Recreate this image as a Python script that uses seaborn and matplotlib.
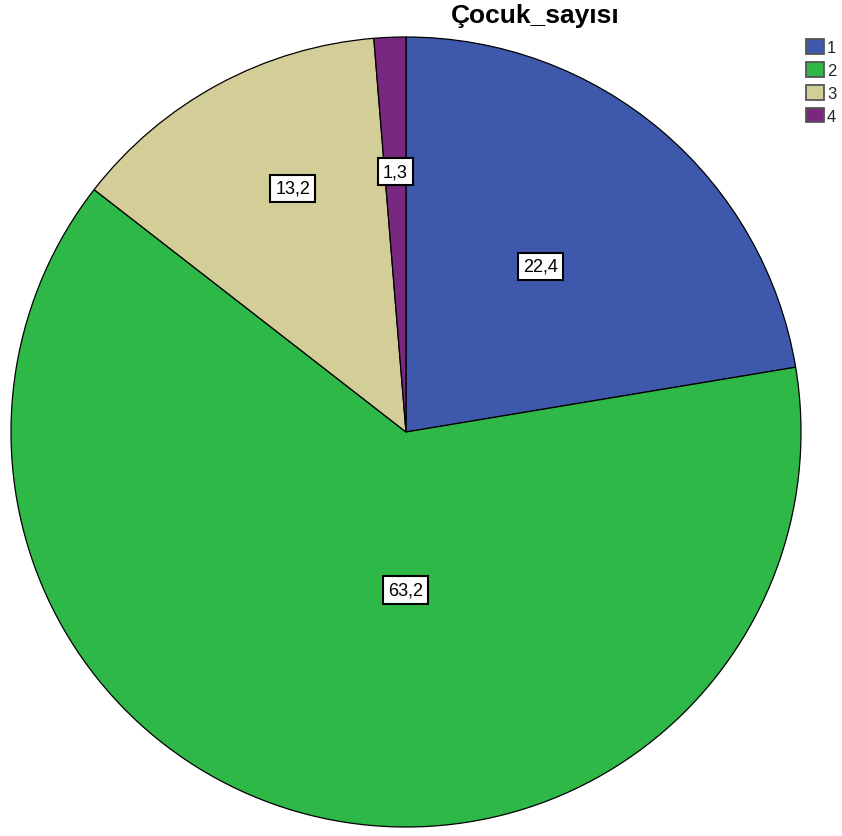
import matplotlib
matplotlib.use("Agg")
import matplotlib.pyplot as plt
import seaborn as sns
import numpy as np

sns.set_theme(style="white")
plt.rcParams['font.family'] = ['Liberation Sans', 'DejaVu Sans']

categories = ["1", "2", "3", "4"]
values = [22.4, 63.2, 13.2, 1.3]
value_labels = ["22,4", "63,2", "13,2", "1,3"]
colors = ["#3E58AC", "#2EB848", "#D3CE97", "#79287F"]
label_radius = [0.54, 0.40, 0.68, 0.66]
label_angle_shift = [1.3, 14.0, -3.5, 0.0]

fig = plt.figure(figsize=(8.42, 8.37), dpi=100)
ax = fig.add_axes([11/842, 9/837, 790/842, 790/837])
wedges, _ = ax.pie(values, colors=colors, startangle=90, counterclock=False,
                   wedgeprops=dict(edgecolor="black", linewidth=0.9), radius=1)
ax.set_xlim(-1.0, 1.0)
ax.set_ylim(-1.0, 1.0)
ax.set_aspect("auto")
ax.axis("off")

for w, lab, rf, sh in zip(wedges, value_labels, label_radius, label_angle_shift):
    ang = np.deg2rad((w.theta1 + w.theta2) / 2 + sh)
    ax.text(rf * np.cos(ang), rf * np.sin(ang), lab, ha="center", va="center",
            fontsize=13, color="black",
            bbox=dict(boxstyle="square,pad=0.28", facecolor="white", edgecolor="black", linewidth=1.5))

fig.text(535/842, 1 - 16/837, "Çocuk_sayısı", ha="center", va="center",
         fontsize=19, fontweight="bold", color="black")

leg = fig.legend(wedges, categories, loc="upper left", bbox_to_anchor=(806/842, 1 - 40/837),
                 frameon=False, fontsize=12, handlelength=1.05, handleheight=1.0,
                 handletextpad=0.2, labelspacing=0.4, borderaxespad=0, borderpad=0)
for h in leg.legend_handles:
    h.set_edgecolor("#555555")
    h.set_linewidth(1.3)

fig.savefig("out.png", dpi=100)
